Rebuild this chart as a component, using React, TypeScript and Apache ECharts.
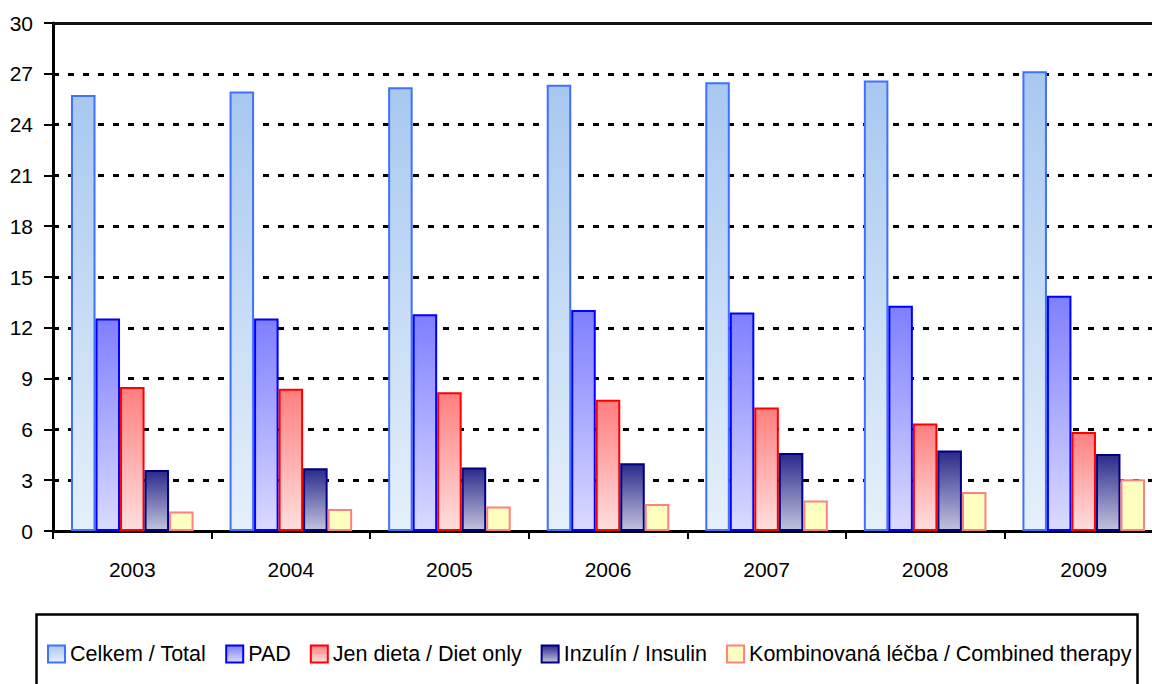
import React, { useEffect, useRef } from "react";
import * as echarts from "echarts";

const years = ["2003", "2004", "2005", "2006", "2007", "2008", "2009"];
const yTicks = [0, 3, 6, 9, 12, 15, 18, 21, 24, 27, 30];

const seriesNames = [
  "Celkem / Total",
  "PAD",
  "Jen dieta / Diet only",
  "Inzulín / Insulin",
  "Kombinovaná léčba / Combined therapy",
];

const celkem = [25.75, 25.95, 26.2, 26.35, 26.5, 26.6, 27.15];
const pad = [12.55, 12.55, 12.8, 13.05, 12.9, 13.3, 13.9];
const jenDieta = [8.5, 8.4, 8.2, 7.75, 7.3, 6.35, 5.85];
const inzulin = [3.6, 3.7, 3.75, 4.0, 4.6, 4.75, 4.55];
const kombinovana = [1.15, 1.3, 1.45, 1.6, 1.8, 2.3, 3.05];

const seriesData = [celkem, pad, jenDieta, inzulin, kombinovana];

const fills: [string, string][] = [
  ["#A8C8F0", "#E6F0FB"],
  ["#7F7FFF", "#DADAFF"],
  ["#FF7F7F", "#FFDEDE"],
  ["#2B2B8C", "#C2C2DE"],
  ["#FFFFC0", "#FFFFC0"],
];
const borders = ["#4070FF", "#0000FF", "#FF0000", "#000080", "#FF8080"];

const FONT = "'Liberation Sans', Arial, sans-serif";

export default function App() {
  const ref = useRef<HTMLDivElement>(null);

  useEffect(() => {
    if (!ref.current) return;
    const chart = echarts.init(ref.current, null, { renderer: "svg" });

    const series = seriesNames.map((name, i) => {
      const s: any = {
        name,
        type: "bar",
        data: seriesData[i],
        barGap: "0%",
        barCategoryGap: "22.7%",
        itemStyle: {
          color: new echarts.graphic.LinearGradient(0, 0, 0, 1, [
            { offset: 0, color: fills[i][0] },
            { offset: 1, color: fills[i][1] },
          ]),
          borderColor: borders[i],
          borderWidth: 2,
        },
      };
      if (i === 0) {
        s.markLine = {
          silent: true,
          symbol: ["none", "none"],
          label: { show: false },
          lineStyle: { type: "solid", color: "#111", width: 3 },
          data: [{ yAxis: 30 }],
        };
      }
      return s;
    });

    chart.setOption({
      animation: false,
      backgroundColor: "#ffffff",
      grid: { left: 53, top: 23, right: 0, height: 508, containLabel: false },
      legend: {
        left: 42,
        top: 638,
        icon: "rect",
        itemWidth: 17,
        itemHeight: 17,
        itemGap: 19,
        textStyle: { fontFamily: FONT, fontSize: 21.5, color: "#000" },
        data: seriesNames,
      },
      xAxis: {
        type: "category",
        data: years,
        boundaryGap: true,
        axisLine: { show: true, lineStyle: { color: "#000", width: 3 } },
        axisTick: { show: true, length: 8, lineStyle: { color: "#000", width: 2 } },
        axisLabel: { fontFamily: FONT, fontSize: 21, color: "#000", margin: 28 },
        splitLine: { show: false },
      },
      yAxis: {
        type: "value",
        min: 0,
        max: 30,
        interval: 3,
        axisLine: { show: true, lineStyle: { color: "#000", width: 3 } },
        axisTick: { show: true, length: 9, lineStyle: { color: "#000", width: 2 } },
        axisLabel: {
          fontFamily: FONT,
          fontSize: 21,
          color: "#000",
          margin: 20,
          formatter: (v: number) => (yTicks.includes(v) ? String(v) : ""),
        },
        splitLine: { show: true, lineStyle: { color: "#000", width: 3, type: [6, 9] } },
      },
      graphic: [
        {
          type: "rect",
          left: 34,
          top: 612,
          shape: { width: 1101, height: 120 },
          style: { fill: "none", stroke: "#000", lineWidth: 2.5 },
          silent: true,
        },
      ],
      series,
    });

    return () => chart.dispose();
  }, []);

  return (
    <div
      style={{
        position: "absolute",
        left: 0,
        top: 0,
        width: 1152,
        height: 684,
        overflow: "hidden",
      }}
    >
      <div ref={ref} style={{ width: 1163, height: 684 }} />
    </div>
  );
}
